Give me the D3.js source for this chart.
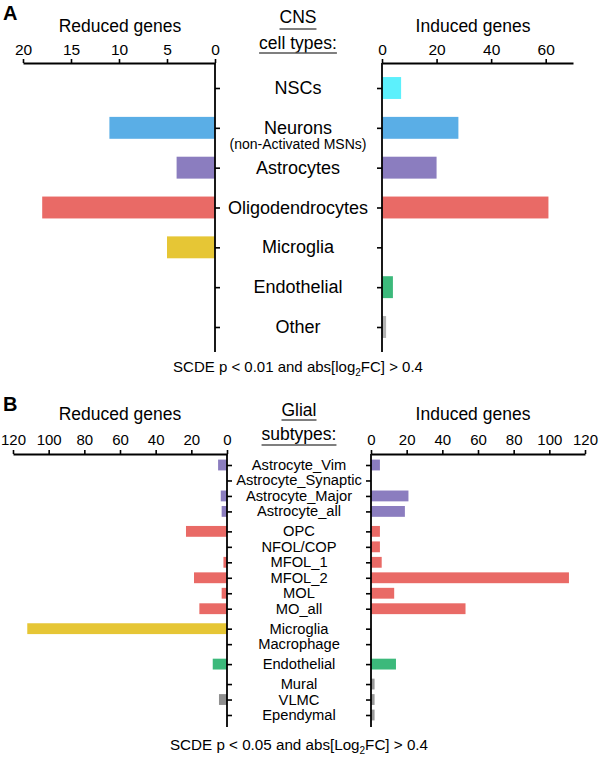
<!DOCTYPE html>
<html>
<head>
<meta charset="utf-8">
<script src="https://cdn.jsdelivr.net/npm/d3@7"></script>
<style>
  html, body { margin: 0; padding: 0; background: #fff; }
  svg { display: block; font-family: "Liberation Sans", Arial, Helvetica, sans-serif; }
</style>
</head>
<body>
<svg id="chart" width="600" height="757"></svg>
<script>
// ---------- Panel A data ----------
const cnsTypes = ["NSCs", "Neurons", "Astrocytes", "Oligodendrocytes", "Microglia", "Endothelial", "Other"];
const cnsReduced = [0, 11, 4, 18, 5, 0, 0];
const cnsInduced = [7, 28, 20, 61, 0, 4, 1.5];
const cnsColors = ["#5cf0fc", "#5aaee6", "#8b7dbf", "#e96a66", "#e6c635", "#3cb97b", "#b3b3b3"];
const reducedTicksA = [0, 5, 10, 15, 20];
const inducedTicksA = [0, 20, 40, 60];

// ---------- Panel B data ----------
const glialTypes = ["Astrocyte_Vim", "Astrocyte_Synaptic", "Astrocyte_Major", "Astrocyte_all",
  "OPC", "NFOL/COP", "MFOL_1", "MFOL_2", "MOL", "MO_all",
  "Microglia", "Macrophage", "Endothelial", "Mural", "VLMC", "Ependymal"];
const glialGroups = [0, 0, 0, 0, 1, 1, 1, 1, 1, 1, 2, 2, 3, 4, 4, 4];
const glialReduced = [5, 0, 3.5, 3, 23, 0, 2, 18.5, 3, 15.5, 112, 0, 8, 0, 4.5, 0];
const glialInduced = [5, 0, 21, 19, 5, 5, 6, 111, 13, 53, 0, 0, 14, 2, 2, 2];
const groupColors = ["#8b7dbf", "#e96a66", "#e6c635", "#3cb97b", "#8f8f8f"];
const reducedTicksB = [0, 20, 40, 60, 80, 100, 120];
const inducedTicksB = [0, 20, 40, 60, 80, 100, 120];

const svg = d3.select("#chart");
const FONT = '"Liberation Sans", Arial, Helvetica, sans-serif';

function styleAxis(g, fs) {
  g.selectAll("path.domain").attr("stroke", "#000").attr("stroke-width", 1.8);
  g.selectAll(".tick line").attr("stroke", "#000").attr("stroke-width", 1.6);
  g.selectAll(".tick text").attr("fill", "#000").attr("font-size", fs).attr("font-family", FONT);
}

function underlinedText(x, y, txt, fs, offset) {
  const t = svg.append("text").attr("x", x).attr("y", y).attr("text-anchor", "middle")
    .attr("font-size", fs).attr("fill", "#000").text(txt);
  const w = t.node().getComputedTextLength();
  svg.append("line").attr("x1", x - w / 2).attr("x2", x + w / 2)
    .attr("y1", y + offset).attr("y2", y + offset)
    .attr("stroke", "#555").attr("stroke-width", 1.4);
}

// =================== Panel A ===================
(function () {
  const topY = 63, botY = 352;
  const xL = d3.scaleLinear().domain([0, 20]).range([215, 23]);
  const xR = d3.scaleLinear().domain([0, 70]).range([382, 573]);
  const y = d3.scalePoint().domain(cnsTypes).range([88, 327]);
  const bh = y.step() * 0.55;

  const rows = cnsTypes.map((c, i) => ({ c, r: cnsReduced[i], n: cnsInduced[i], col: cnsColors[i] }));

  svg.append("g").selectAll("rect").data(rows.filter(d => d.r > 0)).join("rect")
    .attr("x", d => xL(d.r)).attr("width", d => xL(0) - xL(d.r))
    .attr("y", d => y(d.c) - bh / 2).attr("height", bh).attr("fill", d => d.col);
  svg.append("g").selectAll("rect").data(rows.filter(d => d.n > 0)).join("rect")
    .attr("x", xR(0)).attr("width", d => xR(d.n) - xR(0))
    .attr("y", d => y(d.c) - bh / 2).attr("height", bh).attr("fill", d => d.col);

  const gxl = svg.append("g").attr("transform", `translate(0,${topY})`)
    .call(d3.axisTop(xL).tickValues(reducedTicksA).tickSize(4).tickPadding(4).tickSizeOuter(0));
  styleAxis(gxl, 15.5);
  const gxr = svg.append("g").attr("transform", `translate(0,${topY})`)
    .call(d3.axisTop(xR).tickValues(inducedTicksA).tickSize(4).tickPadding(4).tickSizeOuter(0));
  styleAxis(gxr, 15.5);

  const gyl = svg.append("g").attr("transform", `translate(${xL(0)},0)`)
    .call(d3.axisRight(y).tickSize(5).tickFormat("").tickSizeOuter(0));
  gyl.select("path.domain").attr("d", `M0,${topY}V${botY}`);
  styleAxis(gyl, 0);
  const gyr = svg.append("g").attr("transform", `translate(${xR(0)},0)`)
    .call(d3.axisLeft(y).tickSize(5).tickFormat("").tickSizeOuter(0));
  gyr.select("path.domain").attr("d", `M0,${topY}V${botY}`);
  styleAxis(gyr, 0);

  const cx = 298;
  svg.append("g").selectAll("text").data(cnsTypes).join("text")
    .attr("x", cx).attr("y", d => y(d) + 6).attr("text-anchor", "middle")
    .attr("font-size", 18).attr("fill", "#000").text(d => d);
  svg.append("text").attr("x", cx).attr("y", y("Neurons") + 21).attr("text-anchor", "middle")
    .attr("font-size", 14).attr("fill", "#000").text("(non-Activated MSNs)");

  svg.append("text").attr("x", 3).attr("y", 20).attr("font-size", 20).attr("font-weight", "bold").text("A");
  svg.append("text").attr("x", 120).attr("y", 32).attr("text-anchor", "middle").attr("font-size", 17.5).text("Reduced genes");
  svg.append("text").attr("x", 473).attr("y", 32).attr("text-anchor", "middle").attr("font-size", 17.5).text("Induced genes");
  underlinedText(cx, 23, "CNS", 17.5, 6);
  underlinedText(cx, 49, "cell types:", 17.5, 4);

  const f = svg.append("text").attr("x", cx).attr("y", 372).attr("text-anchor", "middle").attr("font-size", 15);
  f.append("tspan").text("SCDE p < 0.01 and abs[log");
  f.append("tspan").attr("font-size", 10).attr("dy", 4).text("2");
  f.append("tspan").attr("dy", -4).text("FC] > 0.4");
})();

// =================== Panel B ===================
(function () {
  const topY = 454, botY = 727;
  const xL = d3.scaleLinear().domain([0, 120]).range([227, 13]);
  const xR = d3.scaleLinear().domain([0, 120]).range([371, 585]);
  const gap = 0.29;
  const slot = glialTypes.map((t, i) => i + glialGroups[i] * gap);
  const y = d3.scaleLinear().domain([0, d3.max(slot)]).range([465, 715]);
  const step = y(1) - y(0);
  const bh = step * 0.7;

  const rows = glialTypes.map((t, i) => ({ t, p: slot[i], r: glialReduced[i], n: glialInduced[i], col: groupColors[glialGroups[i]] }));

  svg.append("g").selectAll("rect").data(rows.filter(d => d.r > 0)).join("rect")
    .attr("x", d => xL(d.r)).attr("width", d => xL(0) - xL(d.r))
    .attr("y", d => y(d.p) - bh / 2).attr("height", bh).attr("fill", d => d.col);
  svg.append("g").selectAll("rect").data(rows.filter(d => d.n > 0)).join("rect")
    .attr("x", xR(0)).attr("width", d => xR(d.n) - xR(0))
    .attr("y", d => y(d.p) - bh / 2).attr("height", bh)
    .attr("fill", d => d.col === "#8f8f8f" ? "#9a9a9a" : d.col);

  const gxl = svg.append("g").attr("transform", `translate(0,${topY})`)
    .call(d3.axisTop(xL).tickValues(reducedTicksB).tickSize(4).tickPadding(5).tickSizeOuter(0));
  styleAxis(gxl, 15);
  const gxr = svg.append("g").attr("transform", `translate(0,${topY})`)
    .call(d3.axisTop(xR).tickValues(inducedTicksB).tickSize(4).tickPadding(5).tickSizeOuter(0));
  styleAxis(gxr, 15);

  const gyl = svg.append("g").attr("transform", `translate(${xL(0)},0)`)
    .call(d3.axisRight(y).tickValues(slot).tickSize(5).tickFormat("").tickSizeOuter(0));
  gyl.select("path.domain").attr("d", `M0,${topY}V${botY}`);
  styleAxis(gyl, 0);
  const gyr = svg.append("g").attr("transform", `translate(${xR(0)},0)`)
    .call(d3.axisLeft(y).tickValues(slot).tickSize(5).tickFormat("").tickSizeOuter(0));
  gyr.select("path.domain").attr("d", `M0,${topY}V${botY}`);
  styleAxis(gyr, 0);

  const cx = 299;
  svg.append("g").selectAll("text").data(rows).join("text")
    .attr("x", cx).attr("y", d => y(d.p) + 5).attr("text-anchor", "middle")
    .attr("font-size", 14.7).attr("fill", "#000").text(d => d.t);

  svg.append("text").attr("x", 3).attr("y", 411).attr("font-size", 20).attr("font-weight", "bold").text("B");
  svg.append("text").attr("x", 120).attr("y", 420).attr("text-anchor", "middle").attr("font-size", 17.5).text("Reduced genes");
  svg.append("text").attr("x", 473).attr("y", 420).attr("text-anchor", "middle").attr("font-size", 17.5).text("Induced genes");
  underlinedText(cx, 416, "Glial", 17.5, 4);
  underlinedText(cx, 440, "subtypes:", 17.5, 5);

  const f = svg.append("text").attr("x", cx).attr("y", 750).attr("text-anchor", "middle").attr("font-size", 15.2);
  f.append("tspan").text("SCDE p < 0.05 and abs[Log");
  f.append("tspan").attr("font-size", 10).attr("dy", 4).text("2");
  f.append("tspan").attr("dy", -4).text("FC] > 0.4");
})();
</script>
</body>
</html>
